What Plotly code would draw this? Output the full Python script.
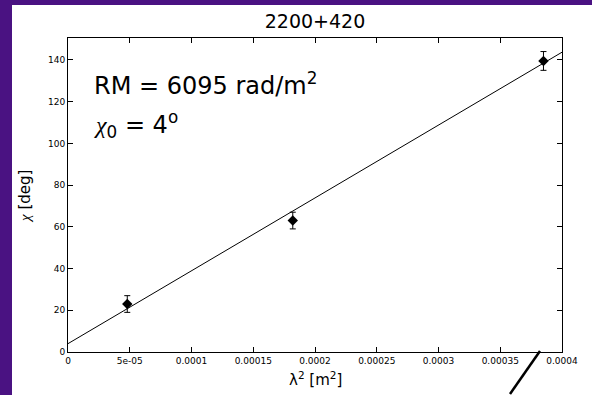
import numpy as np
import plotly.graph_objects as go

# Measured polarisation angle vs wavelength squared for 2200+420
lambda_sq = [4.8e-05, 1.82e-04, 3.85e-04]   # m^2
chi_deg = [23.0, 63.0, 139.5]               # deg
chi_err = [4.0, 4.0, 4.5]                   # deg

# Linear fit: chi = chi0 + RM * lambda^2
rm_rad = 6095      # rad/m^2
chi0_deg = 4       # deg
fit_x = [0.0, 0.0004]

x_ticks = [0, 0.00005, 0.0001, 0.00015, 0.0002, 0.00025, 0.0003, 0.00035, 0.0004]
x_tick_text = ["0", "5e-05", "0.0001", "0.00015", "0.0002", "0.00025", "0.0003", "0.00035", "0.0004"]
y_ticks = [0, 20, 40, 60, 80, 100, 120, 140]

fit_y = [chi0_deg + rm_rad * np.degrees(1.0) * x for x in fit_x]

W, H = 592, 395
L, R, T, B = 68, 30, 38, 43
pw, ph = W - L - R, H - T - B


def px(xp):
    return (xp - L) / pw


def py(yp):
    return (H - B - yp) / ph


FONT = "DejaVu Sans"
CHI = "<span style=\"font-family:'Liberation Serif';font-style:italic\">χ</span>"

fig = go.Figure()
fig.add_trace(go.Scatter(
    x=fit_x, y=fit_y, mode="lines",
    line=dict(color="black", width=1), hoverinfo="skip", showlegend=False,
))
fig.add_trace(go.Scatter(
    x=lambda_sq, y=chi_deg, mode="markers",
    marker=dict(symbol="diamond", size=8, color="black"),
    error_y=dict(type="data", array=chi_err, color="black", thickness=1, width=3),
    showlegend=False,
))

axis_common = dict(
    showline=True, linecolor="black", linewidth=1, mirror="ticks",
    ticks="inside", ticklen=5, tickcolor="black", showgrid=False, zeroline=False,
    tickfont=dict(family=FONT, size=9, color="#000"),
)

fig.update_layout(
    width=W, height=H,
    margin=dict(l=L, r=R, t=T, b=B, pad=0),
    paper_bgcolor="#4a1282",
    plot_bgcolor="white",
    title=dict(text="2200+420", x=px(315), xref="paper", xanchor="center",
               y=1 - 21 / H, yref="container", yanchor="middle",
               font=dict(family=FONT, size=19, color="black")),
    xaxis=dict(range=[0, 0.0004], tickvals=x_ticks, ticktext=x_tick_text, **axis_common),
    yaxis=dict(range=[0, 150.5], tickvals=y_ticks, **axis_common),
    shapes=[
        # white panel behind the chart
        dict(type="rect", xref="paper", yref="paper", layer="below",
             x0=px(12), x1=px(W + 5), y0=py(H + 5), y1=py(5),
             fillcolor="white", line=dict(width=0)),
        # pointer stroke below the axis
        dict(type="line", xref="paper", yref="paper",
             x0=px(540), y0=py(351), x1=px(510), y1=py(394),
             line=dict(color="black", width=2.5)),
    ],
    annotations=[
        dict(text="RM = 6095 rad/m<sup>2</sup>", xref="paper", yref="paper",
             x=px(92), y=py(84), xanchor="left", yanchor="middle", showarrow=False,
             font=dict(family=FONT, size=24, color="black")),
        dict(text=CHI + "<sub>0</sub> = 4<sup>o</sup>", xref="paper", yref="paper",
             x=px(92), y=py(124), xanchor="left", yanchor="middle", showarrow=False,
             font=dict(family=FONT, size=24, color="black")),
        dict(text="λ<sup>2</sup> [m<sup>2</sup>]", xref="paper", yref="paper",
             x=px(315), y=py(379), xanchor="center", yanchor="middle", showarrow=False,
             font=dict(family=FONT, size=15, color="black")),
        dict(text=CHI + " [deg]", xref="paper", yref="paper", textangle=-90,
             x=px(25), y=py(197), xanchor="center", yanchor="middle", showarrow=False,
             font=dict(family=FONT, size=15, color="black")),
    ],
)

fig.write_html("out.html")
